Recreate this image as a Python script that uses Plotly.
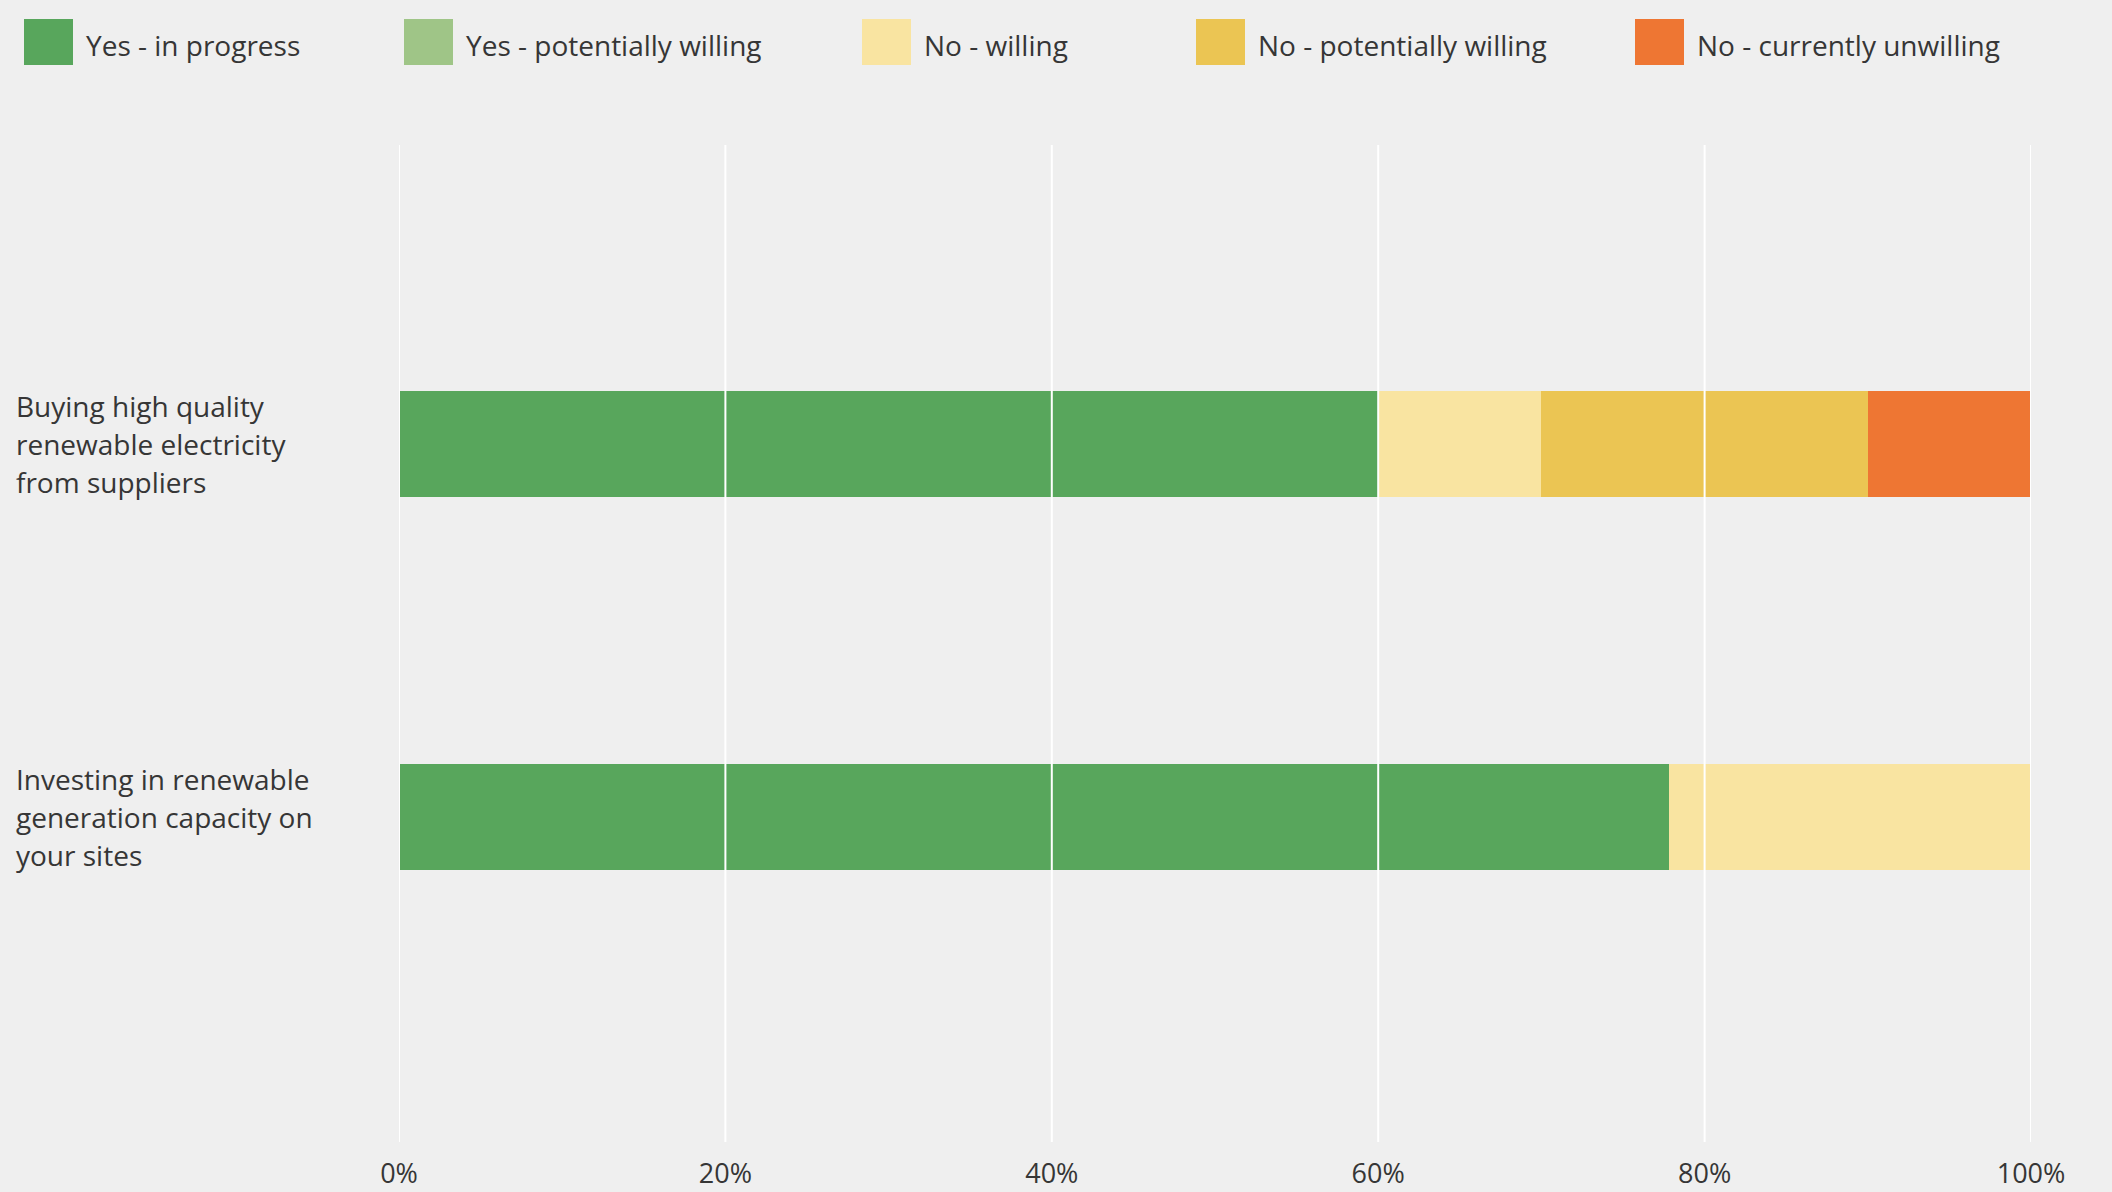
import plotly.graph_objects as go

# ---- data ----
categories = [
    "Buying high quality<br>renewable electricity<br>from suppliers",
    "Investing in renewable<br>generation capacity on<br>your sites",
]
series_names = [
    "Yes - in progress",
    "Yes - potentially willing",
    "No - willing",
    "No - potentially willing",
    "No - currently unwilling",
]
yes_in_progress = [60.0, 77.8]
yes_potentially_willing = [0.0, 0.0]
no_willing = [10.0, 22.2]
no_potentially_willing = [20.0, 0.0]
no_currently_unwilling = [10.0, 0.0]
x_tick_values = [0, 20, 40, 60, 80, 100]
x_tick_labels = ["0%", "20%", "40%", "60%", "80%", "100%"]

series_values = [yes_in_progress, yes_potentially_willing, no_willing,
                 no_potentially_willing, no_currently_unwilling]
colors = ["#58a65c", "#9fc587", "#f9e4a1", "#ebc553", "#ee7633"]

W, H = 2112, 1192
ML, MR, MT, MB = 399, 81, 145, 50
PW = W - ML - MR
PH = H - MT - MB
FONT = "'Open Sans', Lato, sans-serif"
TEXT = "#363636"

def px_x(px):
    return (px - ML) / PW

def px_y(py):
    return (H - MB - py) / PH

idx = list(range(len(categories)))

fig = go.Figure()
for name, vals, col in zip(series_names, series_values, colors):
    fig.add_trace(go.Bar(
        name=name, y=idx, x=vals, orientation="h",
        marker=dict(color=col, line=dict(width=0)),
        width=0.284, showlegend=False,
        hovertemplate="%{x}%<extra>" + name + "</extra>",
    ))

shapes = []
# gridlines above bars
for v in x_tick_values:
    shapes.append(dict(type="line", xref="x", yref="paper", x0=v, x1=v, y0=0, y1=1,
                       line=dict(color="#ffffff", width=2), layer="above"))

annotations = []
# category labels, left aligned, one per line
for i, cat in enumerate(categories):
    lines = cat.split("<br>")
    n = len(lines)
    for j, ln in enumerate(lines):
        annotations.append(dict(
            text=ln, xref="paper", yref="y", x=px_x(14), y=i,
            xanchor="left", yanchor="middle", showarrow=False,
            yshift=((n - 1) / 2 - j) * 38,
            font=dict(family=FONT, size=28, color=TEXT),
        ))

# custom legend with large swatches
legend_x = [24, 404, 862, 1196, 1635]
for name, col, lx in zip(series_names, colors, legend_x):
    shapes.append(dict(type="rect", xref="paper", yref="paper",
                       x0=px_x(lx), x1=px_x(lx + 49), y0=px_y(65), y1=px_y(19),
                       fillcolor=col, line=dict(width=0), layer="above"))
    annotations.append(dict(
        text=name, xref="paper", yref="paper", x=px_x(lx + 60), y=px_y(45),
        xanchor="left", yanchor="middle", showarrow=False,
        font=dict(family=FONT, size=28, color=TEXT),
    ))

fig.update_layout(
    width=W, height=H,
    barmode="stack",
    paper_bgcolor="#efefef", plot_bgcolor="#efefef",
    margin=dict(l=ML, r=MR, t=MT, b=MB, autoexpand=False),
    font=dict(family=FONT, color=TEXT),
    xaxis=dict(range=[0, 100], tickvals=x_tick_values, ticktext=x_tick_labels,
               showgrid=False, zeroline=False, showline=False,
               tickfont=dict(size=27, color=TEXT), ticklabelstandoff=13,
               fixedrange=True),
    yaxis=dict(range=[1.87, -0.8], showticklabels=False, showgrid=False,
               zeroline=False, showline=False, fixedrange=True),
    shapes=shapes,
    annotations=annotations,
    showlegend=False,
)

fig.write_html("out.html")
